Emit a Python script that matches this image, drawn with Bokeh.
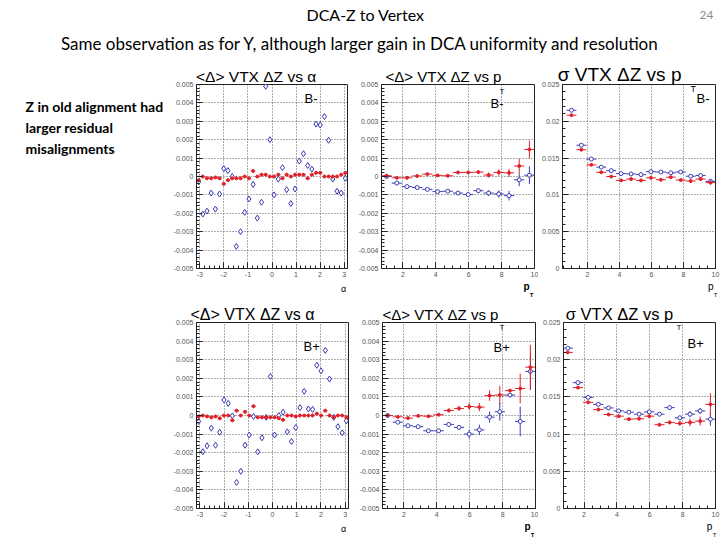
from bokeh.plotting import figure
from bokeh.layouts import row, column
from bokeh.models import Label, FixedTicker, Range1d, ColumnDataSource, LinearAxis
from bokeh.embed import file_html
from bokeh.resources import INLINE
from bokeh.core.properties import value

# ---------------------------------------------------------------- data
# azimuthal bins (36 bins over -pi..pi) and pT bins (15 bins over 0.7..10)
alpha_centers = [-3.054, -2.880, -2.705, -2.531, -2.356, -2.182, -2.007, -1.833,
                 -1.658, -1.484, -1.309, -1.134, -0.960, -0.785, -0.611, -0.436,
                 -0.262, -0.087, 0.087, 0.262, 0.436, 0.611, 0.785, 0.960,
                 1.134, 1.309, 1.484, 1.658, 1.833, 2.007, 2.182, 2.356,
                 2.531, 2.705, 2.880, 3.054]
alpha_halfwidth = 0.0873

pt_centers = [1.01, 1.63, 2.25, 2.87, 3.49, 4.11, 4.73, 5.35, 5.97, 6.59,
              7.21, 7.83, 8.45, 9.07, 9.69]
pt_halfwidth = 0.31

# <Delta> VTX dZ vs alpha, B-  (old alignment = blue, new = red)
alpha_bm_old = [-0.00029, -0.00204, -0.00188, -0.0009, -0.00177, -0.00095, 0.00043, 0.00032,
                0.0, -0.0038, -0.0030, -0.00195, -0.00122, -0.00043, -0.00226, -0.0014,
                0.0049, 0.0020, -0.0010, -0.00014, 0.00048, -0.00072, -0.00147, -0.00068,
                0.00084, 0.00124, 0.0006, 0.0004, 0.00285, 0.0028, 0.00326, 0.00197,
                -0.00014, -0.0008, -0.0009, -0.0001]
alpha_bm_new = [-0.0002, 0.0, -0.0001, -0.0001, -0.00005, -0.0001, -0.0004, -0.0002,
                -0.0001, -0.0001, -0.0001, 0.0, -0.0001, 0.0003, 0.0, 0.0001,
                0.0001, 0.0, 0.0, 0.0001, -0.0001, 0.0001, 0.0, 0.0001,
                0.0001, 0.0001, -0.0001, 0.0001, 0.0002, 0.0002, 0.0, 0.0,
                0.0, 0.0, 0.0001, 0.0002]
alpha_bm_new_err = [0.00008] * 36

# <Delta> VTX dZ vs alpha, B+
alpha_bp_old = [-0.00032, -0.00195, -0.00163, -0.00068, -0.0016, -0.0009, 0.00084, 0.00065,
                -0.00002, -0.0036, -0.0030, -0.0016, -0.00105, -0.00005, -0.00195, -0.0012,
                -0.0001, 0.0021, -0.00105, 0.0, 0.00018, -0.00088, -0.0014, -0.00065,
                0.00042, 0.0013, 0.00035, 0.00033, 0.0027, 0.0024, 0.0035, 0.00196,
                -0.0001, -0.0006, -0.00093, -0.00028]
alpha_bp_new = [-0.00005, 0.0, -0.00005, -0.0001, -0.00005, -0.00015, 0.0, 0.0,
                -0.00026, 0.00026, 0.0, 0.0002, 0.0, 0.0005, -0.0001, -0.0001,
                -0.0001, -0.0001, -0.0001, -0.00015, -0.00023, 0.0, 0.0, -0.00005,
                0.0, 0.0, 0.0, 0.0, 0.0001, 0.0, 0.00026, 0.0,
                -0.0001, 0.0, 0.0, -0.0001]
alpha_bp_new_err = [0.00008] * 36

# <Delta> VTX dZ vs pT
mean_bm_new = [0.00004, -0.00007, -0.00007, 0.00003, 0.00013, 0.00006, 0.00004, 0.00022,
               0.00022, 0.00024, 0.00008, 0.00022, 0.0002, 0.00057, 0.00147]
mean_bm_new_err = [0.00002, 0.00002, 0.00002, 0.00003, 0.00003, 0.00004, 0.00005, 0.00007,
                   0.00009, 0.00011, 0.00014, 0.00017, 0.00022, 0.0004, 0.00048]
mean_bm_old = [0.0, -0.00036, -0.00055, -0.0006, -0.0007, -0.00082, -0.0008, -0.0009,
               -0.00098, -0.00077, -0.0009, -0.00095, -0.00104, -0.00018, 0.00007]
mean_bm_old_err = [0.00002, 0.00002, 0.00003, 0.00003, 0.00004, 0.00005, 0.00006, 0.00007,
                   0.00009, 0.00012, 0.00016, 0.0002, 0.00026, 0.00035, 0.00048]

mean_bp_new = [0.0, -0.00007, -0.00014, -0.00002, -0.00004, 0.00004, 0.00027, 0.00038,
               0.00048, 0.00045, 0.00107, 0.0011, 0.00134, 0.00145, 0.0026]
mean_bp_new_err = [0.00002, 0.00003, 0.00003, 0.00004, 0.00004, 0.00006, 0.0001, 0.00012,
                   0.00018, 0.00022, 0.00028, 0.0005, 0.00008, 0.0008, 0.0012]
mean_bp_old = [0.0, -0.00036, -0.00055, -0.0006, -0.00082, -0.00082, -0.00048, -0.00064,
               -0.001, -0.00077, -0.00009, 0.0002, 0.0011, -0.00032, 0.00237]
mean_bp_old_err = [0.00002, 0.00003, 0.00003, 0.00004, 0.00005, 0.00006, 0.00008, 0.0001,
                   0.00022, 0.00028, 0.0003, 0.00048, 0.00005, 0.0008, 0.001]

# sigma VTX dZ vs pT
sigma_bm_old = [0.0215, 0.01675, 0.01487, 0.01377, 0.0133, 0.0129, 0.01285, 0.01276,
                0.01316, 0.01311, 0.0130, 0.01311, 0.01254, 0.01263, 0.01184]
sigma_bm_new = [0.02083, 0.01614, 0.01408, 0.01307, 0.0125, 0.01197, 0.01215, 0.01197,
                0.01232, 0.01206, 0.01241, 0.01202, 0.01189, 0.01215, 0.01167]
sigma_bm_err = [0.00005, 0.00005, 0.00005, 0.00006, 0.00006, 0.00007, 0.00008, 0.0001,
                0.00012, 0.00014, 0.00016, 0.0002, 0.00022, 0.00026, 0.0003]

sigma_bp_old = [0.02155, 0.01692, 0.01493, 0.014, 0.01352, 0.01312, 0.01294, 0.01268,
                0.01299, 0.01268, 0.01356, 0.01219, 0.01268, 0.01312, 0.01201]
sigma_bp_old_err = [0.00005, 0.00005, 0.00006, 0.00006, 0.00007, 0.00008, 0.0001, 0.00012,
                    0.00014, 0.00018, 0.00025, 0.0003, 0.0004, 0.0004, 0.0009]
sigma_bp_new = [0.02098, 0.01625, 0.01427, 0.0133, 0.01263, 0.01241, 0.01201, 0.01206,
                0.01241, 0.01126, 0.01157, 0.01144, 0.01157, 0.01175, 0.014]
sigma_bp_new_err = [0.00005, 0.00005, 0.00006, 0.00006, 0.00007, 0.00008, 0.0001, 0.00012,
                    0.00015, 0.0002, 0.00025, 0.0003, 0.0005, 0.0006, 0.0015]

# axis ticks and labels
mean_ticks = [-0.005, -0.004, -0.003, -0.002, -0.001, 0.0, 0.001, 0.002, 0.003, 0.004, 0.005]
mean_tick_labels = ["-0.005", "-0.004", "-0.003", "-0.002", "-0.001", "0",
                    "0.001", "0.002", "0.003", "0.004", "0.005"]
sigma_ticks = [0.0, 0.005, 0.01, 0.015, 0.02, 0.025]
sigma_tick_labels = ["0", "0.005", "0.01", "0.015", "0.02", "0.025"]
alpha_ticks = [-3, -2, -1, 0, 1, 2, 3]
alpha_tick_labels = ["-3", "-2", "-1", "0", "1", "2", "3"]
pt_ticks = [2, 4, 6, 8, 10]
pt_tick_labels = ["2", "4", "6", "8", "10"]

# ---------------------------------------------------------------- style
RED = "#e0232b"
BLUE = "#3c3cb4"
ROOT_FONT = "Liberation Sans"
SLIDE_FONT = "Lato"


def minor_steps(ticks, n, lo, hi):
    step = (ticks[1] - ticks[0]) / n
    out = []
    k = ticks[0] - step * n
    while k <= hi + 1e-12:
        if k >= lo - 1e-12:
            out.append(round(k, 6))
        k += step
    return out


def panel(width, height, frame, xr, yr, xticks, xlabels, xminor, yticks, ylabels, yminor):
    left, right, top, bottom = frame
    p = figure(width=width, height=height, x_range=Range1d(*xr), y_range=Range1d(*yr),
               output_backend="svg", toolbar_location=None, title=None,
               min_border_left=left, min_border_right=right,
               min_border_top=top, min_border_bottom=bottom)
    p.background_fill_color = "white"
    p.border_fill_color = "white"
    p.outline_line_color = "#222222"
    p.outline_line_width = 1
    p.xaxis.ticker = FixedTicker(ticks=xticks, minor_ticks=minor_steps(xticks, xminor, *xr))
    p.yaxis.ticker = FixedTicker(ticks=yticks, minor_ticks=minor_steps(yticks, yminor, *yr))
    p.xaxis.major_label_overrides = dict(zip(xticks, xlabels))
    p.yaxis.major_label_overrides = dict(zip(yticks, ylabels))
    for ax in (p.xaxis, p.yaxis):
        ax.major_tick_in = 6
        ax.major_tick_out = 0
        ax.minor_tick_in = 3
        ax.minor_tick_out = 0
        ax.axis_line_color = "#222222"
        ax.major_tick_line_color = "#222222"
        ax.minor_tick_line_color = "#222222"
        ax.major_label_text_font = ROOT_FONT
        ax.major_label_text_font_size = "7px"
        ax.major_label_text_color = "#555555"
        ax.major_label_standoff = 3
    for g in (p.xgrid, p.ygrid):
        g.grid_line_color = "#333333"
        g.grid_line_dash = "1 2"
        g.grid_line_alpha = 0.8
    return p


def series(p, xs, ys, errs, halfwidth, color, marker, size, fill):
    src = ColumnDataSource(dict(
        x=xs, y=ys,
        x0=[x - halfwidth for x in xs], x1=[x + halfwidth for x in xs],
        ylo=[y - e for y, e in zip(ys, errs)], yhi=[y + e for y, e in zip(ys, errs)],
    ))
    p.segment(x0="x0", y0="y", x1="x1", y1="y", source=src, line_color=color, line_width=1)
    p.segment(x0="x", y0="ylo", x1="x", y1="yhi", source=src, line_color=color, line_width=1)
    p.scatter(x="x", y="y", source=src, marker=marker, size=size,
              line_color=color, fill_color=fill, line_width=1)


def text_at(p, frame_left, frame_top, sx, sy, text, size, align="left",
            font=ROOT_FONT, style="normal", color="black"):
    # text inside the frame, placed in pixels from the frame's top-left corner
    p.add_layout(Label(x=p.x_range.start, y=p.y_range.end,
                       x_offset=sx - frame_left, y_offset=frame_top - sy,
                       text=text, text_font=font, text_font_size=size,
                       text_font_style=style, text_color=color,
                       text_align=align, text_baseline="middle"))


def margin_text(p, place, frame_left, frame_width, sx, text, size, standoff,
                style="normal", color="black"):
    # text in the margin above/below the frame, carried by a bare axis with one tick
    xr = p.x_range
    pos = xr.start + (sx - frame_left) / frame_width * (xr.end - xr.start)
    ax = LinearAxis(ticker=FixedTicker(ticks=[pos], minor_ticks=[]),
                    major_label_overrides={pos: text})
    ax.axis_line_color = None
    ax.major_tick_line_color = None
    ax.minor_tick_line_color = None
    ax.major_tick_in = 0
    ax.major_tick_out = 0
    ax.minor_tick_in = 0
    ax.minor_tick_out = 0
    ax.major_label_standoff = standoff
    ax.major_label_text_font = ROOT_FONT
    ax.major_label_text_font_size = size
    ax.major_label_text_font_style = style
    ax.major_label_text_color = color
    p.add_layout(ax, place)


# ---------------------------------------------------------------- panels
# row 1: x 170..355, 355..538, 538..720 ; y 60..300
p1 = panel(185, 240, (25, 8, 24, 28), (-3.1416, 3.1416), (-0.005, 0.005),
           alpha_ticks, alpha_tick_labels, 5, mean_ticks, mean_tick_labels, 5)
series(p1, alpha_centers, alpha_bm_old, [0.0] * 36, alpha_halfwidth, BLUE, "diamond", 6, "white")
series(p1, alpha_centers, alpha_bm_new, alpha_bm_new_err, alpha_halfwidth, RED, "circle", 3, RED)
margin_text(p1, "above", 195, 152, 255, "<\u0394> VTX \u0394Z vs \u03b1", "15.5px", 0)
margin_text(p1, "below", 195, 152, 343, "\u03b1", "9px", 4)
text_at(p1, 195, 84, 303, 98, "B-", "13px")

p2 = panel(183, 240, (26, 4, 24, 28), (0.7, 10.0), (-0.005, 0.005),
           pt_ticks, pt_tick_labels, 4, mean_ticks, mean_tick_labels, 5)
series(p2, pt_centers, mean_bm_old, mean_bm_old_err, pt_halfwidth, BLUE, "circle", 4, "white")
series(p2, pt_centers, mean_bm_new, mean_bm_new_err, pt_halfwidth, RED, "circle", 3, RED)
margin_text(p2, "above", 381, 153, 443, "<\u0394> VTX \u0394Z vs p", "15px", 0)
margin_text(p2, "below", 381, 153, 526, "p", "10px", 1, style="bold")
margin_text(p2, "below", 381, 153, 531, "T", "6px", -3, style="bold")
text_at(p2, 381, 84, 499, 91, "T", "8px")
text_at(p2, 381, 84, 490, 103, "B-", "13px")

p3 = panel(182, 240, (19, 5, 23, 27), (0.45, 10.0), (0.0, 0.025),
           pt_ticks, pt_tick_labels, 4, sigma_ticks, sigma_tick_labels, 5)
series(p3, pt_centers, sigma_bm_old, sigma_bm_err, pt_halfwidth, BLUE, "circle", 4, "white")
series(p3, pt_centers, sigma_bm_new, sigma_bm_err, pt_halfwidth, RED, "circle", 3, RED)
margin_text(p3, "above", 557, 158, 616, "\u03c3 VTX \u0394Z vs p", "19px", 0)
margin_text(p3, "below", 557, 158, 710, "p", "10px", 1)
margin_text(p3, "below", 557, 158, 715, "T", "6px", -3)
text_at(p3, 557, 83, 685, 87, "T", "9px")
text_at(p3, 557, 83, 691, 97, "B-", "13px")

# row 2: y 300..540
p4 = panel(185, 240, (26, 7, 19, 30), (-3.1416, 3.1416), (-0.005, 0.005),
           alpha_ticks, alpha_tick_labels, 5, mean_ticks, mean_tick_labels, 5)
series(p4, alpha_centers, alpha_bp_old, [0.0] * 36, alpha_halfwidth, BLUE, "diamond", 6, "white")
series(p4, alpha_centers, alpha_bp_new, alpha_bp_new_err, alpha_halfwidth, RED, "circle", 3, RED)
margin_text(p4, "above", 196, 152, 252, "<\u0394> VTX \u0394Z vs \u03b1", "16px", 0)
margin_text(p4, "below", 196, 152, 343, "\u03b1", "9px", 4)
text_at(p4, 196, 319, 303, 343, "B+", "13px")

p5 = panel(183, 240, (27, 3, 22, 29), (0.7, 10.0), (-0.005, 0.005),
           pt_ticks, pt_tick_labels, 4, mean_ticks, mean_tick_labels, 5)
series(p5, pt_centers, mean_bp_old, mean_bp_old_err, pt_halfwidth, BLUE, "circle", 4, "white")
series(p5, pt_centers, mean_bp_new, mean_bp_new_err, pt_halfwidth, RED, "circle", 3, RED)
margin_text(p5, "above", 382, 153, 440, "<\u0394> VTX \u0394Z vs p", "15px", 0)
margin_text(p5, "below", 382, 153, 527, "p", "10px", 1, style="bold")
margin_text(p5, "below", 382, 153, 532, "T", "6px", -3, style="bold")
text_at(p5, 382, 322, 499, 327, "T", "8px")
text_at(p5, 382, 322, 493, 347, "B+", "13px")

p6 = panel(182, 240, (25, 5, 22, 29), (0.75, 10.0), (0.0, 0.025),
           pt_ticks, pt_tick_labels, 4, sigma_ticks, sigma_tick_labels, 5)
series(p6, pt_centers, sigma_bp_old, sigma_bp_old_err, pt_halfwidth, BLUE, "circle", 4, "white")
series(p6, pt_centers, sigma_bp_new, sigma_bp_new_err, pt_halfwidth, RED, "circle", 3, RED)
margin_text(p6, "above", 563, 152, 619, "\u03c3 VTX \u0394Z vs p", "16.5px", 0)
margin_text(p6, "below", 563, 152, 709, "p", "10px", 1)
margin_text(p6, "below", 563, 152, 714, "T", "6px", -3)
text_at(p6, 563, 322, 676, 327, "T", "8px")
text_at(p6, 563, 322, 687, 343, "B+", "13px")


# ---------------------------------------------------------------- slide text
def blank(width, height):
    f = figure(width=width, height=height, x_range=Range1d(0, width), y_range=Range1d(height, 0),
               output_backend="svg", toolbar_location=None, title=None, min_border=0)
    f.axis.visible = False
    f.grid.visible = False
    f.outline_line_color = None
    f.background_fill_color = "white"
    f.border_fill_color = "white"
    return f


header = blank(720, 60)
header.text(x=[365], y=[14], text=["DCA-Z to Vertex"], text_font=value(SLIDE_FONT),
            text_font_size="16px", text_align="center", text_baseline="middle", text_color="black")
header.text(x=[706], y=[14], text=["24"], text_font=value(SLIDE_FONT),
            text_font_size="12px", text_align="center", text_baseline="middle", text_color="#8c8c8c")
header.text(x=[360], y=[43], text=["Same observation as for Y, although larger gain in DCA uniformity and resolution"],
            text_font=value(SLIDE_FONT), text_font_size="17px", text_align="center",
            text_baseline="middle", text_color="black")

side = blank(170, 480)
side.text(x=[25, 25, 25], y=[46, 67, 88],
          text=["Z in old alignment had", "larger residual", "misalignments"],
          text_font=value(SLIDE_FONT), text_font_size="14px", text_font_style="bold",
          text_align="left", text_baseline="middle", text_color="black")

layout = column(header,
                row(side, column(row(p1, p2, p3), row(p4, p5, p6))))

open("out.html", "w").write(file_html(layout, INLINE))
